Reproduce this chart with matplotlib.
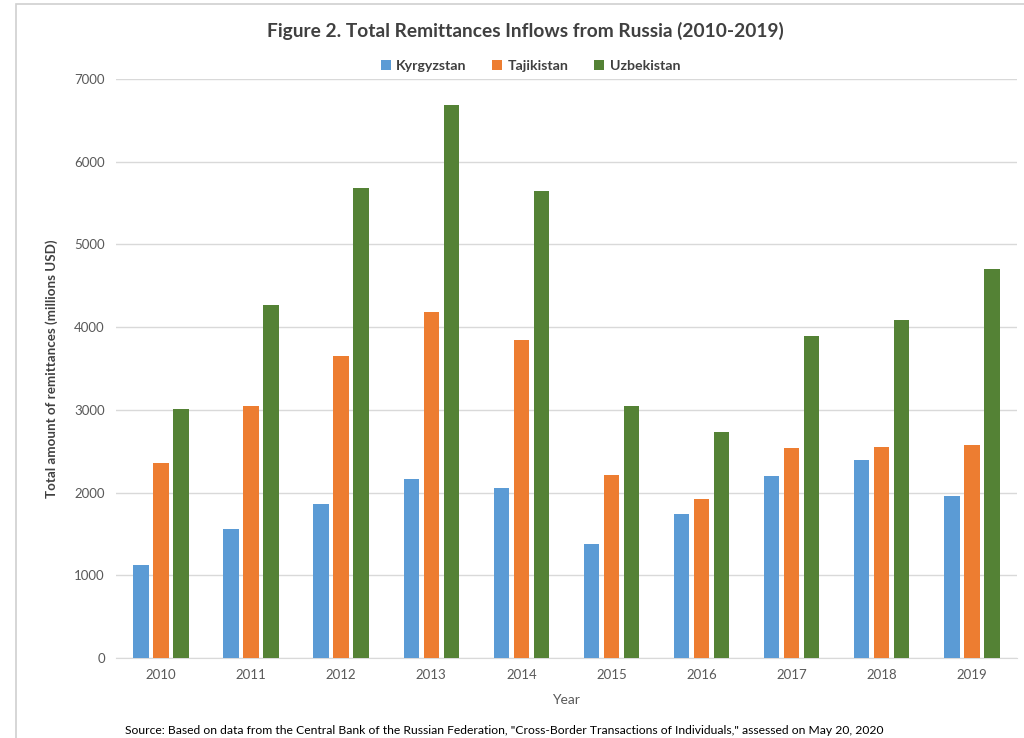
import matplotlib.pyplot as plt
import numpy as np

years = ['2010', '2011', '2012', '2013', '2014', '2015', '2016', '2017', '2018', '2019']
kyrgyzstan = [1130, 1564, 1858, 2161, 2052, 1373, 1742, 2204, 2396, 1958]
tajikistan = [2352, 3042, 3652, 4177, 3842, 2212, 1926, 2534, 2550, 2573]
uzbekistan = [3010, 4270, 5687, 6687, 5646, 3052, 2727, 3897, 4087, 4701]

countries = ['Kyrgyzstan', 'Tajikistan', 'Uzbekistan']
colors = ['#5B9BD5', '#ED7D31', '#548235']

plt.rcParams['font.family'] = ['Lato', 'DejaVu Sans']

fig = plt.figure(figsize=(10.24, 7.38), dpi=100)
ax = fig.add_axes([0.1133, 0.1084, 0.8797, 0.7846])

x = np.arange(len(years))
w = 0.172
step = 0.222
for i, (vals, name) in enumerate(zip([kyrgyzstan, tajikistan, uzbekistan], countries)):
    ax.bar(x + (i - 1) * step, vals, w, color=colors[i], label=name, zorder=3)

ax.set_xlim(-0.5, len(years) - 0.5)
ax.set_ylim(0, 7000)
ax.set_yticks(range(0, 7001, 1000))
ax.set_xticks(x)
ax.set_xticklabels(years)
ax.grid(axis='y', color='#D9D9D9', linewidth=1, zorder=0)
for s in ['top', 'right', 'left']:
    ax.spines[s].set_visible(False)
ax.spines['bottom'].set_color('#D9D9D9')
ax.tick_params(axis='both', length=0, labelsize=9.5, colors='#595959', pad=8)

ax.set_ylabel('Total amount of remittances (millions USD)', fontsize=9.6,
              fontweight='bold', color='#404040', labelpad=12)
ax.set_xlabel('Year', fontsize=10, color='#595959', labelpad=9)

fig.text(0.513, 0.958, 'Figure 2. Total Remittances Inflows from Russia (2010-2019)',
         ha='center', va='center', fontsize=13.8, fontweight='bold', color='#404040')

fig.legend(loc='center', bbox_to_anchor=(0.518, 0.911), ncol=3, frameon=False,
           handlelength=0.7, handleheight=0.7, columnspacing=1.8,
           handletextpad=0.4, prop={'weight': 'bold', 'size': 10.2})
for t in fig.legends[0].get_texts():
    t.set_color('#404040')

fig.text(0.122, 1 - 730 / 738, 'Source: Based on data from the Central Bank of the Russian Federation, '
         '"Cross-Border Transactions of Individuals," assessed on May 20, 2020',
         ha='left', va='center', fontsize=8.75, color='#000000')

border = plt.Rectangle((16 / 1024, -0.1), 1.2, 1.1 - 4 / 738, transform=fig.transFigure,
                       fill=False, edgecolor='#D0D0D0', linewidth=1.2)
fig.patches.append(border)

fig.savefig('out.png', dpi=100)
